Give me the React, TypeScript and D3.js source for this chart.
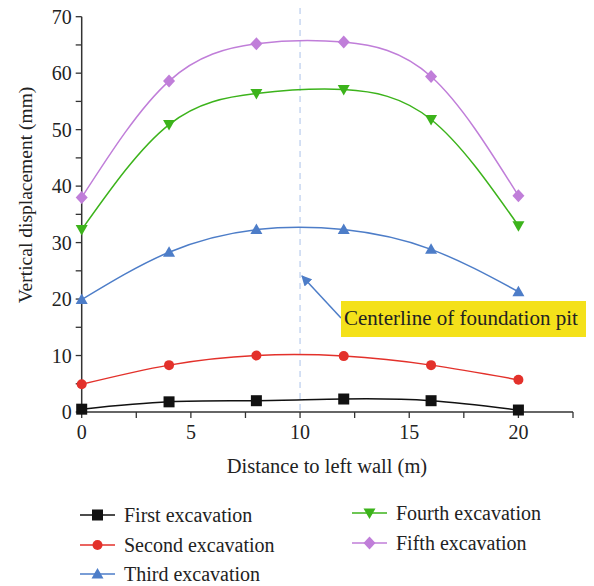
import React from "react";
import * as d3 from "d3";

const distances = [0, 4, 8, 12, 16, 20];
const firstExc = [0.5, 1.8, 2.0, 2.3, 2.0, 0.35];
const secondExc = [4.9, 8.3, 10.0, 9.9, 8.3, 5.7];
const thirdExc = [19.9, 28.3, 32.3, 32.3, 28.8, 21.3];
const fourthExc = [32.3, 50.9, 56.4, 57.1, 51.8, 33.0];
const fifthExc = [38.0, 58.6, 65.2, 65.5, 59.4, 38.3];

const xTicks = [0, 5, 10, 15, 20];
const yTicks = [0, 10, 20, 30, 40, 50, 60, 70];

const series = [
  { name: "First excavation", values: firstExc, color: "#111111", marker: "square" },
  { name: "Second excavation", values: secondExc, color: "#e3312b", marker: "circle" },
  { name: "Third excavation", values: thirdExc, color: "#4d7dc8", marker: "triangle" },
  { name: "Fourth excavation", values: fourthExc, color: "#3cb31b", marker: "triangleDown" },
  { name: "Fifth excavation", values: fifthExc, color: "#c07ed9", marker: "diamond" },
];

const W = 594;
const H = 586;
const FONT = "'Liberation Serif', 'DejaVu Serif', serif";

const x = d3.scaleLinear().domain([0, 22.5]).range([81.7, 573]);
const y = d3.scaleLinear().domain([0, 70]).range([412, 16.7]);

const Marker = ({ type, cx, cy, color }: { type: string; cx: number; cy: number; color: string }) => {
  if (type === "square") return <rect x={cx - 5.5} y={cy - 5.5} width={11} height={11} fill={color} />;
  if (type === "circle") return <circle cx={cx} cy={cy} r={5} fill={color} />;
  if (type === "triangle")
    return <path d={`M${cx},${cy - 6}L${cx + 6},${cy + 4.5}L${cx - 6},${cy + 4.5}Z`} fill={color} />;
  if (type === "triangleDown")
    return <path d={`M${cx},${cy + 6}L${cx + 6},${cy - 4.5}L${cx - 6},${cy - 4.5}Z`} fill={color} />;
  return <path d={`M${cx},${cy - 6.5}L${cx + 6},${cy}L${cx},${cy + 6.5}L${cx - 6},${cy}Z`} fill={color} />;
};

export default function App() {
  const line = d3
    .line<number>()
    .x((_, i) => x(distances[i]))
    .y((d) => y(d))
    .curve(d3.curveNatural);

  const minorX = d3.range(0, 22.51, 2.5);
  const minorY = d3.range(0, 70.1, 5);

  const legendPos = [
    { lx: 80, ly: 515 },
    { lx: 80, ly: 545 },
    { lx: 80, ly: 574 },
    { lx: 352, ly: 513 },
    { lx: 352, ly: 543 },
  ];

  return (
    <svg
      width={W}
      height={H}
      style={{ position: "absolute", left: 0, top: 0, background: "#fff" }}
      fontFamily={FONT}
    >
      {/* centerline */}
      <line
        x1={x(10)}
        x2={x(10)}
        y1={8}
        y2={y(0)}
        stroke="#c8d7f1"
        strokeWidth={1.5}
        strokeDasharray="6,5"
      />

      {/* axes */}
      <line x1={x(0)} x2={x(0)} y1={y(0)} y2={y(70)} stroke="#333" strokeWidth={1.5} />
      <line x1={x(0)} x2={x(22.5)} y1={y(0)} y2={y(0)} stroke="#333" strokeWidth={1.5} />
      {minorY.map((t) => (
        <line key={"yt" + t} x1={x(0) - 6} x2={x(0)} y1={y(t)} y2={y(t)} stroke="#333" strokeWidth={1.3} />
      ))}
      {minorX.map((t) => (
        <line key={"xt" + t} x1={x(t)} x2={x(t)} y1={y(0)} y2={y(0) + 6} stroke="#333" strokeWidth={1.3} />
      ))}
      {yTicks.map((t) => (
        <text key={"yl" + t} x={x(0) - 10} y={y(t)} dy="0.35em" textAnchor="end" fontSize={20} fill="#222">
          {t}
        </text>
      ))}
      {xTicks.map((t) => (
        <text key={"xl" + t} x={x(t)} y={y(0) + 27} textAnchor="middle" fontSize={20} fill="#222">
          {t}
        </text>
      ))}
      <text x={327} y={473} textAnchor="middle" fontSize={20.5} fill="#222">
        Distance to left wall (m)
      </text>
      <text
        transform={`translate(32,195) rotate(-90)`}
        textAnchor="middle"
        fontSize={19.5}
        fill="#222"
      >
        Vertical displacement (mm)
      </text>

      {/* series */}
      {series.map((s) => (
        <g key={s.name}>
          <path d={line(s.values) || ""} fill="none" stroke={s.color} strokeWidth={1.5} />
          {s.values.map((v, i) => (
            <Marker key={i} type={s.marker} cx={x(distances[i])} cy={y(v)} color={s.color} />
          ))}
        </g>
      ))}

      {/* annotation */}
      <defs>
        <marker id="arr" viewBox="0 0 10 10" refX="9" refY="5" markerWidth="7" markerHeight="7" orient="auto">
          <path d="M0,0L10,5L0,10Z" fill="#4d7dc8" />
        </marker>
      </defs>
      <line x1={341} y1={318} x2={302} y2={276} stroke="#4d7dc8" strokeWidth={1.5} markerEnd="url(#arr)" />
      <rect x={341} y={301} width={245} height={36} fill="#f4e11a" />
      <text x={344} y={325} fontSize={21} fill="#222">
        Centerline of foundation pit
      </text>

      {/* legend */}
      {series.map((s, i) => {
        const p = legendPos[i];
        return (
          <g key={"lg" + s.name}>
            <line x1={p.lx} x2={p.lx + 35} y1={p.ly} y2={p.ly} stroke={s.color} strokeWidth={1.5} />
            <Marker type={s.marker} cx={p.lx + 17.5} cy={p.ly} color={s.color} />
            <text x={p.lx + 44} y={p.ly} dy="0.33em" fontSize={20} fill="#222">
              {s.name}
            </text>
          </g>
        );
      })}
    </svg>
  );
}
